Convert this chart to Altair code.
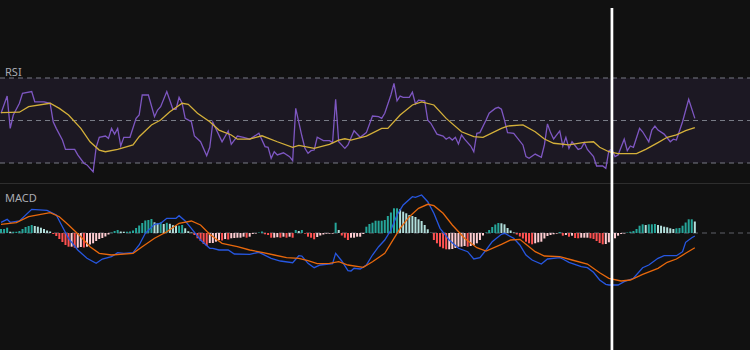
import altair as alt
import pandas as pd

# ---------------- data ----------------
# RSI line (bar index, value)
rsi_idx = [0, 2, 3, 4, 6, 7, 10, 11, 14, 16,
           17, 18, 20, 21, 24, 25, 27, 28, 30, 31,
           32, 34, 35, 36, 37, 38, 39, 40, 42, 44,
           45, 46, 48, 50, 51, 52, 54, 56, 57, 58,
           59, 60, 62, 63, 65, 67, 68, 69, 72, 74,
           75, 77, 79, 81, 84, 86, 87, 88, 89, 90,
           92, 94, 95, 96, 98, 99, 100, 101, 102, 103,
           105, 107, 108, 109, 110, 112, 113, 115, 117, 119,
           121, 123, 124, 125, 127, 128, 129, 130, 131, 133,
           134, 135, 136, 138, 139, 140, 142, 144, 145, 146,
           147, 148, 149, 150, 151, 153, 154, 155, 156, 158,
           159, 161, 162, 163, 164, 165, 167, 170, 171, 172,
           174, 176, 177, 178, 179, 180, 182, 183, 184, 185,
           186, 188, 189, 190, 191, 193, 194, 196, 197, 198,
           199, 200, 201, 203, 204, 205, 206, 208, 209, 211,
           212, 213, 214, 216, 218, 219, 220, 222, 224, 226]
rsi_val = [53.4, 61.5, 46.3, 52.6, 58.1, 62.8, 63.6, 58.8, 58.8, 58.1,
           49.4, 46.3, 40.8, 36.4, 36.4, 33.8, 29.9, 29.1, 25.9, 37.4,
           42.1, 42.7, 41.6, 46.3, 43.6, 46.3, 38.0, 42.1, 42.1, 51.0,
           52.6, 62.0, 62.0, 51.8, 54.9, 56.5, 63.6, 55.3, 55.3, 60.9,
           58.1, 51.0, 49.4, 42.7, 40.0, 33.4, 37.4, 49.2, 40.0, 45.1,
           38.8, 42.7, 42.1, 41.2, 44.0, 37.7, 37.4, 32.2, 35.3, 33.8,
           34.8, 33.0, 31.1, 55.7, 42.7, 36.9, 34.6, 35.8, 36.1, 42.1,
           40.5, 40.5, 39.6, 60.0, 40.0, 36.9, 38.5, 45.2, 42.1, 44.3,
           52.1, 51.8, 51.0, 53.4, 62.0, 67.5, 59.3, 61.5, 60.9, 60.9,
           63.3, 57.8, 59.6, 59.3, 50.2, 48.7, 43.6, 42.7, 41.2, 42.1,
           40.8, 42.1, 38.9, 43.2, 41.2, 38.0, 35.3, 44.0, 44.3, 50.2,
           53.4, 55.7, 56.2, 55.3, 50.2, 44.3, 44.0, 38.5, 33.0, 32.2,
           34.2, 32.7, 38.5, 48.4, 44.3, 41.3, 45.1, 38.0, 42.1, 36.9,
           40.0, 36.4, 36.9, 39.6, 36.4, 33.0, 28.6, 28.6, 27.5, 35.8,
           36.4, 33.0, 33.8, 41.2, 35.8, 38.0, 37.4, 46.3, 44.7, 40.0,
           45.5, 47.4, 45.5, 43.6, 40.0, 41.2, 40.8, 49.4, 60.0, 51.0]

# RSI-based moving average
rsi_ma_idx = [0, 6, 9, 16, 19, 22, 26, 29, 32, 34,
              38, 43, 45, 49, 52, 55, 59, 61, 64, 68,
              71, 75, 77, 81, 85, 90, 95, 97, 102, 107,
              110, 112, 114, 119, 124, 126, 130, 134, 137, 141,
              145, 150, 154, 157, 163, 165, 170, 174, 177, 180,
              185, 190, 193, 195, 198, 201, 207, 210, 214, 217,
              220, 223, 226]
rsi_ma_val = [53.7, 53.9, 56.5, 58.1, 55.7, 52.6, 46.3, 40.0, 36.1, 35.3,
              36.4, 38.5, 42.4, 47.9, 50.2, 54.1, 58.1, 57.6, 53.4, 49.4,
              45.5, 43.2, 41.2, 41.3, 42.8, 40.0, 37.4, 38.3, 36.9, 38.8,
              40.8, 41.4, 40.8, 42.7, 46.3, 46.3, 52.6, 57.3, 58.8, 57.3,
              51.0, 44.7, 42.4, 42.1, 46.3, 47.4, 47.9, 44.7, 41.3, 39.3,
              38.5, 39.7, 40.0, 37.4, 35.3, 34.4, 34.4, 36.4, 39.6, 42.1,
              43.2, 45.2, 46.6]

# MACD line
macd_idx = [0, 2, 3, 6, 10, 15, 18, 20, 22, 25,
            28, 31, 33, 36, 38, 40, 43, 45, 47, 50,
            52, 54, 57, 58, 60, 62, 65, 68, 69, 71,
            74, 76, 81, 84, 88, 91, 95, 97, 98, 100,
            102, 104, 108, 109, 111, 113, 114, 115, 117, 119,
            121, 123, 125, 127, 129, 131, 134, 135, 137, 139,
            141, 143, 146, 149, 152, 154, 156, 158, 160, 163,
            164, 167, 169, 171, 173, 176, 178, 182, 183, 185,
            189, 191, 193, 195, 197, 198, 201, 203, 206, 209,
            211, 214, 216, 220, 222, 223, 225, 226]
macd_val = [1.07, 1.37, 1.07, 1.2, 2.37, 2.27, 1.8, 0.63, -0.53, -1.7,
            -2.53, -3.03, -2.6, -2.37, -1.97, -2.03, -1.97, -1.2, -0.03, 0.87,
            0.97, 1.47, 1.47, 1.73, 1.2, 0.47, -0.7, -1.53, -1.53, -1.7,
            -1.7, -2.1, -2.13, -1.93, -2.53, -2.8, -2.97, -2.27, -2.3, -3.03,
            -3.47, -3.2, -3.07, -2.03, -2.8, -3.77, -3.8, -3.53, -3.6, -3.2,
            -2.2, -1.37, -0.7, 0.3, 1.8, 2.8, 3.63, 3.57, 3.8, 3.13,
            1.97, 0.47, -0.7, -1.53, -1.87, -2.6, -2.47, -1.7, -0.87, -0.13,
            -0.03, -0.53, -1.2, -2.2, -2.7, -3.1, -2.6, -2.47, -2.6, -2.93,
            -3.37, -3.47, -3.93, -4.7, -5.13, -5.2, -5.2, -4.87, -4.53, -3.47,
            -3.2, -2.53, -2.27, -2.27, -1.87, -0.93, -0.47, -0.3]

# Signal line
signal_idx = [0, 5, 9, 16, 19, 22, 26, 29, 32, 36,
              43, 46, 50, 54, 58, 62, 65, 68, 72, 77,
              81, 85, 89, 93, 97, 100, 103, 107, 110, 113,
              118, 121, 125, 127, 130, 133, 136, 139, 141, 144,
              147, 151, 155, 158, 163, 166, 169, 171, 174, 177,
              182, 186, 191, 195, 198, 202, 205, 209, 214, 217,
              220, 223, 226]
signal_val = [0.87, 1.03, 1.63, 2.03, 1.63, 0.8, -0.37, -1.37, -2.03, -2.2,
              -2.03, -1.37, -0.53, 0.13, 0.97, 1.2, 0.8, -0.13, -1.03, -1.37,
              -1.7, -1.93, -2.2, -2.47, -2.53, -2.77, -3.07, -3.03, -2.87, -3.2,
              -3.43, -2.87, -2.03, -1.03, 0.47, 1.63, 2.47, 2.87, 2.73, 1.97,
              0.8, -0.53, -1.47, -1.8, -1.13, -0.7, -0.63, -1.13, -1.87, -2.3,
              -2.37, -2.7, -3.1, -3.97, -4.53, -4.8, -4.7, -4.13, -3.53, -2.93,
              -2.6, -2.03, -1.47]

# MACD histogram, one value per bar (bars 0..226)
hist_val = [0.40, 0.40, 0.53, 0.13, 0.13, 0.13, 0.20, 0.40, 0.60, 0.70,
            0.80, 0.70, 0.63, 0.53, 0.40, 0.25, 0.15, -0.10, -0.30, -0.60,
            -0.90, -1.20, -1.37, -1.37, -1.47, -1.47, -1.40, -1.45, -1.37, -1.15,
            -1.03, -0.80, -0.60, -0.50, -0.35, -0.15, 0.05, 0.20, 0.30, 0.15,
            0.13, 0.13, 0.15, 0.25, 0.50, 0.75, 1.00, 1.25, 1.30, 1.40,
            1.07, 0.97, 1.07, 0.90, 1.02, 0.92, 0.78, 0.73, 0.73, 0.80,
            0.47, 0.18, 0.05, -0.20, -0.53, -0.80, -1.10, -1.30, -1.00, -1.00,
            -0.87, -0.70, -0.75, -0.60, -0.65, -0.53, -0.50, -0.47, -0.47, -0.37,
            -0.47, -0.37, -0.10, -0.05, 0.05, 0.15, -0.13, -0.20, -0.47, -0.47,
            -0.42, -0.47, -0.37, -0.47, -0.37, -0.47, 0.30, 0.20, 0.30, -0.07,
            -0.37, -0.47, -0.63, -0.40, -0.25, -0.15, -0.07, -0.07, -0.07, 1.03,
            0.30, -0.25, -0.47, -0.70, -0.47, -0.47, -0.37, -0.37, -0.10, 0.63,
            0.90, 1.03, 1.23, 1.23, 1.23, 1.30, 1.70, 2.05, 2.47, 2.47,
            2.37, 2.13, 1.97, 1.80, 1.70, 1.60, 1.37, 1.20, 0.80, 0.37,
            0.03, -0.70, -1.03, -1.37, -1.53, -1.63, -1.63, -1.60, -1.50, -1.37,
            -1.37, -1.30, -1.37, -1.30, -1.20, -1.03, -0.70, -0.25, 0.05, 0.30,
            0.60, 0.85, 1.00, 0.97, 0.87, 0.50, 0.25, 0.05, -0.15, -0.35,
            -0.55, -0.87, -1.03, -1.13, -1.03, -0.93, -0.87, -0.55, -0.30, -0.20,
            -0.13, -0.07, 0.10, -0.27, -0.20, -0.37, -0.27, -0.50, -0.53, -0.47,
            -0.47, -0.47, -0.53, -0.60, -0.80, -1.00, -1.13, -1.10, -0.93, -0.80,
            -0.53, -0.27, -0.10, -0.05, 0.05, 0.13, 0.20, 0.40, 0.73, 0.87,
            0.80, 0.87, 0.87, 0.90, 0.80, 0.73, 0.63, 0.57, 0.47, 0.40,
            0.47, 0.50, 0.73, 1.05, 1.37, 1.37, 1.15]

rsi_levels = [70, 50, 30]
macd_zero = [0]
crosshair_bar = [199]
panel_labels = ["RSI", "MACD"]

# ---------------- styling / layout ----------------
W = 750
H = 350
BG = "#111111"
xscale = alt.Scale(domain=[-0.33, 243.97], zero=False, nice=False, padding=0)
# RSI scale: 70 -> y 78, 30 -> y 163 over the full 350px height
rsi_scale = alt.Scale(domain=[-58.0, 106.71], zero=False, nice=False, padding=0)
# MACD scale: 0 -> y 233, 10px per unit over the full height
macd_scale = alt.Scale(domain=[-11.7, 23.3], zero=False, nice=False, padding=0)

hist_cat = []
for k, h in enumerate(hist_val):
    prev = hist_val[k - 1] if k > 0 else h
    if h >= 0:
        hist_cat.append("pos_up" if h >= prev else "pos_down")
    else:
        hist_cat.append("neg_down" if h < prev else "neg_up")

rsi_df = pd.DataFrame({"i": rsi_idx, "v": rsi_val})
rsi_ma_df = pd.DataFrame({"i": rsi_ma_idx, "v": rsi_ma_val})
macd_df = pd.DataFrame({"i": macd_idx, "m": macd_val})
signal_df = pd.DataFrame({"i": signal_idx, "m": signal_val})
hist_df = pd.DataFrame({"i": list(range(len(hist_val))), "m": hist_val,
                        "base": [macd_zero[0]] * len(hist_val), "c": hist_cat})
band_df = pd.DataFrame({"v": [rsi_levels[0]], "v2": [rsi_levels[-1]]})
lvl_df = pd.DataFrame({"v": rsi_levels})
zero_df = pd.DataFrame({"m": macd_zero})
cross_df = pd.DataFrame({"i": crosshair_bar})
label_df = pd.DataFrame({"t": panel_labels, "py": [75.5, 202.0]})

X = alt.X("i:Q", scale=xscale, axis=None)
YR = alt.Y("v:Q", scale=rsi_scale, axis=None)
YM = alt.Y("m:Q", scale=macd_scale, axis=None)

# ---- RSI layers ----
band = alt.Chart(band_df).mark_rect(color="#1c1823").encode(
    x=alt.value(0), x2=alt.value(W), y=YR, y2="v2:Q")
levels = alt.Chart(lvl_df).mark_rule(color="#787b86", strokeDash=[5, 4], strokeWidth=1).encode(
    x=alt.value(0), x2=alt.value(W), y=YR)
rsi_line = alt.Chart(rsi_df).mark_line(color="#7e57c2", strokeWidth=1.3).encode(x=X, y=YR)
rsi_ma_line = alt.Chart(rsi_ma_df).mark_line(color="#d4b03a", strokeWidth=1.3).encode(x=X, y=YR)
rsi_layer = alt.layer(band, levels, rsi_line, rsi_ma_line)

# ---- MACD layers ----
sep = alt.Chart(zero_df).mark_rule(color="#2e2e2e", strokeWidth=1).encode(
    x=alt.value(0), x2=alt.value(W), y=alt.value(183.5))
zero_line = alt.Chart(zero_df).mark_rule(color="#5f6069", strokeDash=[5, 4], strokeWidth=1).encode(
    x=alt.value(0), x2=alt.value(W), y=YM)
bars = alt.Chart(hist_df).mark_bar(size=2).encode(
    x=X, y=YM, y2="base:Q",
    color=alt.Color("c:N", legend=None, scale=alt.Scale(
        domain=["pos_up", "pos_down", "neg_down", "neg_up"],
        range=["#26a69a", "#b2dfdb", "#ff5252", "#ffcdd2"])))
macd_line = alt.Chart(macd_df).mark_line(color="#2757e0", strokeWidth=1.3).encode(x=X, y=YM)
signal_line = alt.Chart(signal_df).mark_line(color="#e8680c", strokeWidth=1.3).encode(x=X, y=YM)
macd_layer = alt.layer(sep, zero_line, bars, macd_line, signal_line)

labels = alt.Chart(label_df).mark_text(
    align="left", baseline="alphabetic", fontSize=11, font="Noto Sans", color="#a9abb3").encode(
    x=alt.value(5), y=alt.Y("py:Q", scale=alt.Scale(domain=[0, H], range=[0, H]), axis=None),
    text="t:N")
cross = alt.Chart(cross_df).mark_rule(color="#ffffff", strokeWidth=2.7).encode(
    x=X, y=alt.value(8), y2=alt.value(H))

chart = alt.layer(rsi_layer, macd_layer, labels, cross).resolve_scale(
    y="independent").properties(
    width=W, height=H, padding=0,
    autosize=alt.AutoSizeParams(type="none"),
    background=BG).configure_view(strokeWidth=0)

chart.save("out.html", embed_options={"renderer": "svg", "actions": False})
